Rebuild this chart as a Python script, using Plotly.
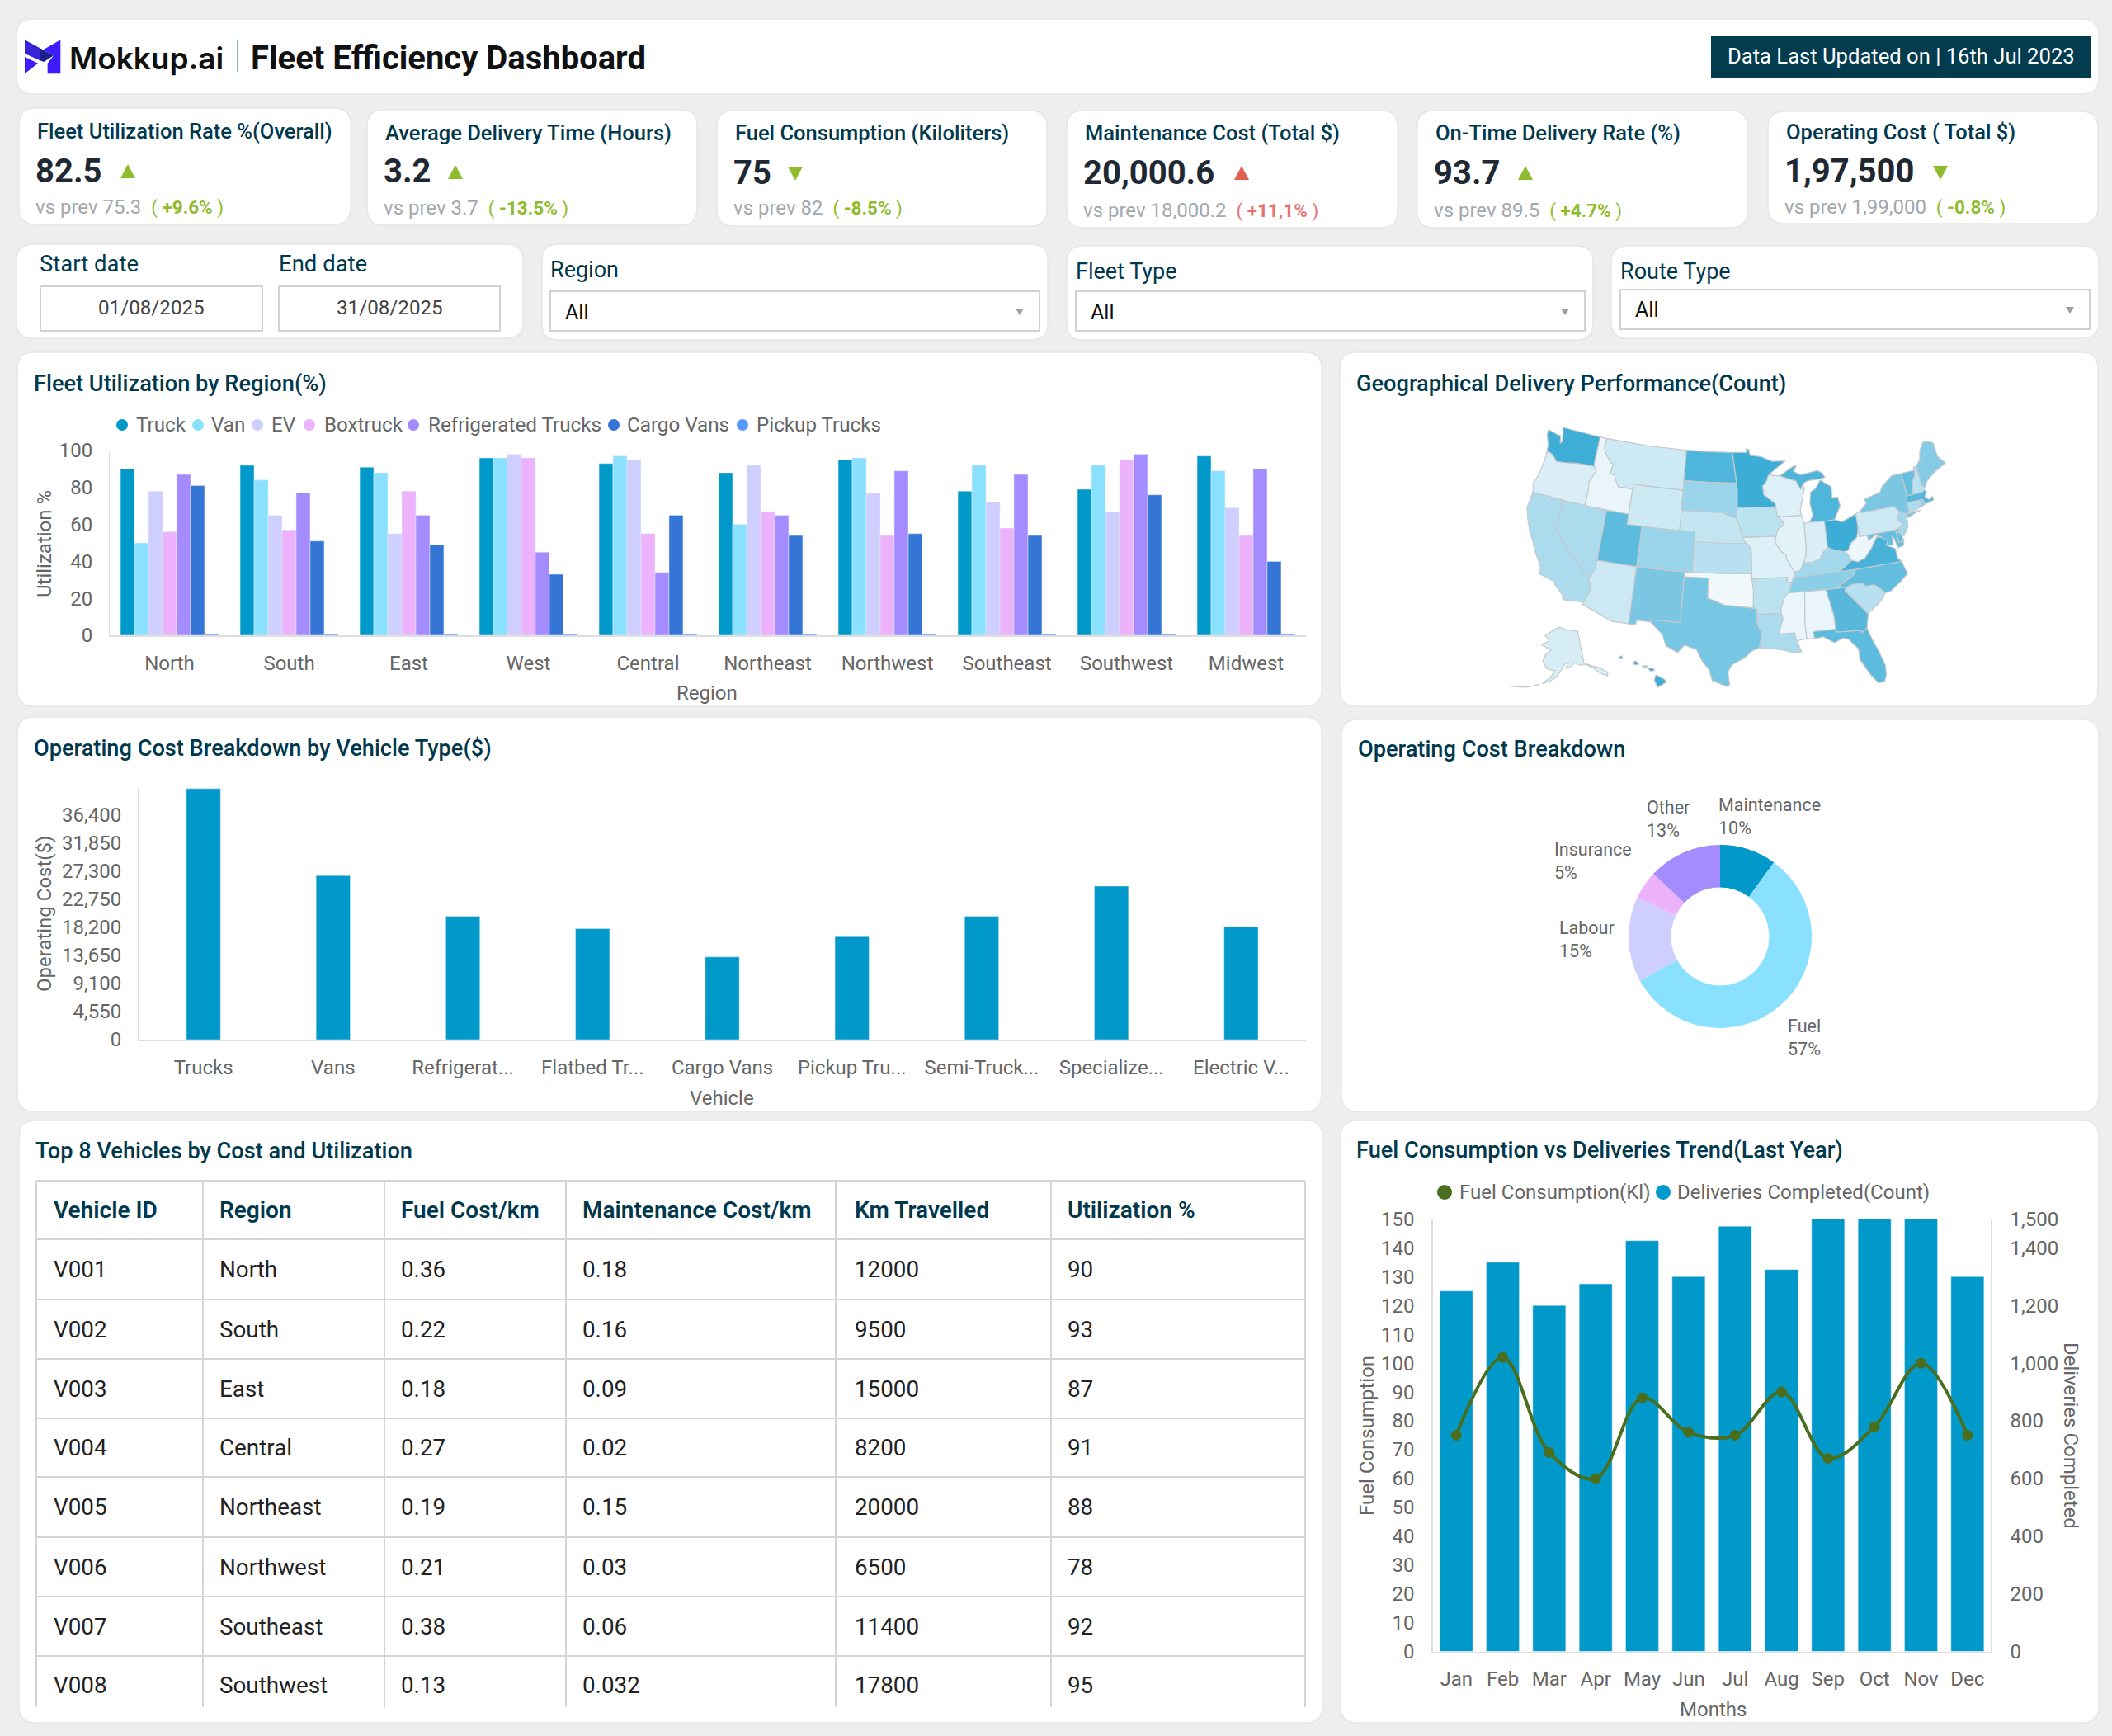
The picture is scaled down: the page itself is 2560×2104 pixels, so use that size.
import math
import plotly.graph_objects as go

W, H = 2560, 2104
DARK = '#00394d'
GREY = '#666666'
AXIS = '#dedede'

# ---- data ----
kpi_titles = ['Fleet Utilization Rate %(Overall)', 'Average Delivery Time (Hours)', 'Fuel Consumption (Kiloliters)',
              'Maintenance Cost (Total $)', 'On-Time Delivery Rate (%)', 'Operating Cost ( Total $)']
kpi_values = ['82.5', '3.2', '75', '20,000.6', '93.7', '1,97,500']
kpi_prev = ['75.3', '3.7', '82', '18,000.2', '89.5', '1,99,000']
kpi_delta = ['+9.6%', '-13.5%', '-8.5%', '+11,1%', '+4.7%', '-0.8%']
kpi_up = [True, True, False, True, True, False]
kpi_bad = [False, False, False, True, False, False]

regions = ['North', 'South', 'East', 'West', 'Central', 'Northeast', 'Northwest', 'Southeast', 'Southwest', 'Midwest']
truck = [90, 92, 91, 96, 93, 88, 95, 78, 79, 97]
van = [50, 84, 88, 96, 97, 60, 96, 92, 92, 89]
ev = [78, 65, 55, 98, 95, 92, 77, 72, 67, 69]
boxtruck = [56, 57, 78, 96, 55, 67, 54, 58, 95, 54]
refrigerated = [87, 77, 65, 45, 34, 65, 89, 87, 98, 90]
cargo_vans = [81, 51, 49, 33, 65, 54, 55, 54, 76, 40]
pickup = [0.6, 0.6, 0.6, 0.6, 0.6, 0.6, 0.6, 0.6, 0.6, 0.6]
fleet_names = ['Truck', 'Van', 'EV', 'Boxtruck', 'Refrigerated Trucks', 'Cargo Vans', 'Pickup Trucks']
fleet_series = [truck, van, ev, boxtruck, refrigerated, cargo_vans, pickup]
fleet_colors = ['#0099c9', '#8ae1ff', '#cfcfff', '#ecb3fc', '#a48cff', '#3575d5', '#5599ff']

vehicles = ['Trucks', 'Vans', 'Refrigerat...', 'Flatbed Tr...', 'Cargo Vans', 'Pickup Tru...', 'Semi-Truck...',
            'Specialize...', 'Electric V...']
vehicle_cost = [40700, 26600, 20000, 18000, 13400, 16700, 20000, 24900, 18300]
cost_ticks = [0, 4550, 9100, 13650, 18200, 22750, 27300, 31850, 36400]

pie_labels = ['Maintenance', 'Fuel', 'Labour', 'Insurance', 'Other']
pie_values = [10, 57, 15, 5, 13]
pie_colors = ['#0099c9', '#8ae1ff', '#cfcfff', '#ecb3fc', '#a48cff']

table_header = ['Vehicle ID', 'Region', 'Fuel Cost/km', 'Maintenance Cost/km', 'Km Travelled', 'Utilization %']
vehicle_id = ['V001', 'V002', 'V003', 'V004', 'V005', 'V006', 'V007', 'V008']
vehicle_region = ['North', 'South', 'East', 'Central', 'Northeast', 'Northwest', 'Southeast', 'Southwest']
fuel_cost = ['0.36', '0.22', '0.18', '0.27', '0.19', '0.21', '0.38', '0.13']
maint_cost = ['0.18', '0.16', '0.09', '0.02', '0.15', '0.03', '0.06', '0.032']
km_travelled = [12000, 9500, 15000, 8200, 20000, 6500, 11400, 17800]
utilization = [90, 93, 87, 91, 88, 78, 92, 95]

months = ['Jan', 'Feb', 'Mar', 'Apr', 'May', 'Jun', 'Jul', 'Aug', 'Sep', 'Oct', 'Nov', 'Dec']
deliveries = [1250, 1350, 1200, 1275, 1425, 1300, 1475, 1325, 1500, 1500, 1500, 1300]
fuel_kl = [75, 102, 69, 60, 88, 76, 75, 90, 67, 78, 100, 75]

# delivery counts per state, estimated from the map shading (0-100)
state_counts = {
    'WA': 90, 'OR': 13, 'ID': 5, 'MT': 19, 'WY': 19, 'ND': 82, 'SD': 45, 'NE': 24, 'KS': 30, 'OK': 1, 'TX': 62,
    'NM': 60, 'CO': 45, 'UT': 75, 'AZ': 20, 'NV': 36, 'CA': 36, 'MN': 92, 'IA': 28, 'MO': 11, 'AR': 28, 'LA': 36,
    'WI': 11, 'IL': 9, 'IN': 13, 'OH': 92, 'KY': 40, 'TN': 52, 'MS': 5, 'AL': 5, 'GA': 78, 'FL': 75, 'SC': 30,
    'NC': 72, 'VA': 85, 'WV': 3, 'MD': 70, 'DE': 70, 'PA': 19, 'NJ': 40, 'NY': 60, 'CT': 35, 'RI': 50, 'MA': 80,
    'VT': 70, 'NH': 30, 'ME': 55, 'MI': 82, 'AK': 14, 'HI': 90,
}

# rough state outlines as lon/lat, no topojson is reachable offline
state_shapes = {
    'WA': [[(-124.7, 48.38), (-123.2, 48.15), (-122.75, 48.15), (-122.5, 47.4), (-122.3, 47.6), (-122.5, 48.5), (-122.8, 49), (-117.03, 49), (-117.04, 46.4), (-116.92, 45.99), (-119, 45.93), (-119.6, 45.9), (-121.2, 45.65), (-122.3, 45.55), (-122.8, 45.9), (-123.4, 46.2), (-124, 46.3), (-124.1, 46.9), (-124.7, 47.9)]],
    'OR': [[(-124.0, 46.25), (-123.4, 46.2), (-122.8, 45.9), (-122.3, 45.55), (-121.2, 45.65), (-119.6, 45.9), (-119, 45.93), (-116.92, 45.99), (-116.5, 45.6), (-117.2, 44.4), (-117.03, 43.8), (-117.03, 42), (-124.2, 42), (-124.5, 42.8), (-124.1, 44), (-123.95, 45.5)]],
    'ID': [[(-117.03, 49), (-116.05, 49), (-116.05, 48), (-115.7, 47.5), (-114.7, 46.7), (-114.35, 46.65), (-114.5, 45.6), (-113.9, 45.6), (-113.45, 44.95), (-113, 44.45), (-112.3, 44.55), (-111.05, 44.48), (-111.05, 42), (-117.03, 42), (-117.03, 43.8), (-117.2, 44.4), (-116.5, 45.6), (-116.92, 45.99), (-117.04, 46.4)]],
    'MT': [[(-116.05, 49), (-110, 49), (-104.05, 49), (-104.05, 45), (-111.05, 45), (-111.05, 44.48), (-112.3, 44.55), (-113, 44.45), (-113.45, 44.95), (-113.9, 45.6), (-114.5, 45.6), (-114.35, 46.65), (-114.7, 46.7), (-115.7, 47.5), (-116.05, 48)]],
    'WY': [[(-111.05, 45), (-107.5, 45), (-104.05, 45), (-104.05, 41), (-107.5, 41), (-111.05, 41)]],
    'ND': [[(-104.05, 49), (-100.5, 49), (-97.23, 49), (-96.85, 47.5), (-96.56, 45.94), (-100.5, 45.94), (-104.05, 45.94)]],
    'SD': [[(-104.05, 45.94), (-100.5, 45.94), (-96.56, 45.94), (-96.45, 45.3), (-96.45, 43.5), (-96.6, 42.5), (-97.9, 42.8), (-98.5, 43), (-101, 43), (-104.05, 43)]],
    'NE': [[(-104.05, 43), (-101, 43), (-98.5, 43), (-97.9, 42.8), (-96.6, 42.5), (-96.1, 41.7), (-95.85, 40.7), (-95.31, 40), (-98.5, 40), (-102.05, 40), (-102.05, 41), (-104.05, 41)]],
    'KS': [[(-102.05, 40), (-98.5, 40), (-95.31, 40), (-94.9, 39.8), (-94.6, 39.1), (-94.62, 37), (-98.5, 37), (-102.04, 37)]],
    'OK': [[(-103, 37), (-98.5, 37), (-94.62, 37), (-94.43, 35.4), (-94.48, 33.64), (-96.5, 33.8), (-97.9, 33.9), (-99.2, 34.3), (-100, 34.56), (-100, 36.5), (-103, 36.5)]],
    'TX': [[(-106.62, 32), (-103.06, 32), (-103.04, 36.5), (-100, 36.5), (-100, 34.56), (-99.2, 34.3), (-97.9, 33.9), (-96.5, 33.8), (-94.48, 33.64), (-94.04, 33.55), (-94.04, 31.99), (-93.55, 31.2), (-93.8, 29.9), (-93.85, 29.7), (-94.7, 29.4), (-95.6, 28.7), (-97, 28), (-97.4, 27.3), (-97.2, 26), (-97.5, 25.85), (-99.1, 26.4), (-99.5, 27.5), (-100.3, 28.3), (-101, 29.4), (-102.4, 29.8), (-103.1, 29), (-104.5, 29.6), (-105, 30.65), (-106.5, 31.75)]],
    'NM': [[(-109.05, 37), (-106, 37), (-103, 37), (-103.06, 32), (-106.62, 32), (-106.53, 31.78), (-108.2, 31.78), (-108.2, 31.33), (-109.05, 31.33)]],
    'CO': [[(-109.05, 41), (-105.5, 41), (-102.05, 41), (-102.05, 37), (-105.5, 37), (-109.05, 37)]],
    'UT': [[(-114.05, 42), (-111.05, 42), (-111.05, 41), (-109.05, 41), (-109.05, 37), (-114.05, 37)]],
    'AZ': [[(-114.05, 37), (-109.05, 37), (-109.05, 31.33), (-111.07, 31.33), (-114.8, 32.5), (-114.5, 33), (-114.15, 34.3), (-114.6, 35), (-114.05, 36.2)]],
    'NV': [[(-120, 42), (-114.05, 42), (-114.05, 36.2), (-114.6, 35), (-120, 39)]],
    'CA': [[(-124.2, 42), (-120, 42), (-120, 39), (-114.6, 35), (-114.15, 34.3), (-114.5, 33), (-114.72, 32.72), (-117.12, 32.53), (-117.3, 33), (-118.4, 33.75), (-118.5, 34.03), (-120.5, 34.45), (-120.65, 35.15), (-121.9, 36.6), (-122.5, 37.5), (-123, 38), (-123.8, 39.3), (-124.35, 40.4)]],
    'MN': [[(-97.23, 49), (-95.15, 49), (-95.15, 49.38), (-94.8, 49.3), (-94.6, 48.7), (-93, 48.55), (-91.4, 48.05), (-89.5, 48), (-92, 46.7), (-92.3, 46.1), (-92.9, 45.6), (-92.75, 44.75), (-91.25, 43.85), (-91.22, 43.5), (-96.45, 43.5), (-96.45, 45.3), (-96.56, 45.94), (-96.85, 47.5)]],
    'IA': [[(-96.45, 43.5), (-91.22, 43.5), (-91.1, 42.7), (-90.15, 41.8), (-91.1, 41.2), (-91.42, 40.38), (-91.75, 40.61), (-95.77, 40.58), (-96.1, 41.7), (-96.6, 42.5)]],
    'MO': [[(-95.77, 40.58), (-91.75, 40.61), (-91.42, 40.38), (-91.5, 40), (-90.7, 39), (-90.15, 38.8), (-90.2, 38.4), (-89.5, 37.3), (-89.15, 37), (-89.4, 36.5), (-89.7, 36), (-90.37, 36), (-90.15, 36.5), (-94.62, 36.5), (-94.6, 39.1), (-94.9, 39.8), (-95.31, 40)]],
    'AR': [[(-94.62, 36.5), (-90.15, 36.5), (-90.37, 36), (-89.7, 36), (-90.1, 35), (-90.6, 34.7), (-91.2, 33.5), (-91.17, 33), (-94.04, 33), (-94.04, 33.55), (-94.48, 33.64), (-94.43, 35.4)]],
    'LA': [[(-94.04, 33), (-91.17, 33), (-91, 32.5), (-91.6, 31), (-89.75, 31), (-89.6, 30.2), (-89.4, 29.8), (-89.1, 29.1), (-90.2, 29.1), (-91.3, 29.4), (-92.3, 29.55), (-93.85, 29.7), (-93.8, 29.9), (-93.55, 31.2), (-94.04, 31.99)]],
    'WI': [[(-92, 46.7), (-90.4, 46.55), (-88.1, 45.9), (-87.8, 45.35), (-87.6, 45.1), (-87, 45.25), (-87.9, 43), (-87.8, 42.5), (-90.64, 42.5), (-91.1, 42.7), (-91.22, 43.5), (-91.25, 43.85), (-92.75, 44.75), (-92.9, 45.6), (-92.3, 46.1)]],
    'IL': [[(-90.64, 42.5), (-87.8, 42.5), (-87.53, 41.7), (-87.53, 39.35), (-87.65, 38.5), (-88.05, 37.8), (-88.5, 37.1), (-89.15, 37), (-89.5, 37.3), (-90.2, 38.4), (-90.15, 38.8), (-90.7, 39), (-91.5, 40), (-91.42, 40.38), (-91.1, 41.2), (-90.15, 41.8), (-91.1, 42.7)]],
    'IN': [[(-87.53, 41.7), (-86.8, 41.76), (-84.8, 41.76), (-84.81, 39.1), (-85.4, 38.7), (-86, 38), (-87.1, 37.8), (-88.05, 37.8), (-87.65, 38.5), (-87.53, 39.35)]],
    'OH': [[(-84.8, 41.7), (-83.45, 41.73), (-82.5, 41.4), (-81.3, 41.75), (-80.52, 41.98), (-80.52, 40.64), (-80.85, 39.7), (-81.75, 39.2), (-82.2, 38.6), (-82.6, 38.45), (-83.7, 38.65), (-84.81, 39.1)]],
    'KY': [[(-89.15, 37), (-88.5, 37.1), (-88.05, 37.8), (-87.1, 37.8), (-86, 38), (-85.4, 38.7), (-84.81, 39.1), (-83.7, 38.65), (-82.6, 38.45), (-81.97, 37.54), (-83.68, 36.6), (-88.07, 36.5), (-89.4, 36.5)]],
    'TN': [[(-90.1, 35), (-89.7, 36), (-89.4, 36.5), (-88.07, 36.5), (-83.68, 36.6), (-81.68, 36.59), (-82, 36.1), (-84.3, 35), (-88.2, 35)]],
    'MS': [[(-90.1, 35), (-88.2, 35), (-88.47, 31.9), (-88.4, 30.35), (-89.6, 30.2), (-89.75, 31), (-91.6, 31), (-91, 32.5), (-91.17, 33), (-91.2, 33.5), (-90.6, 34.7)]],
    'AL': [[(-88.2, 35), (-85.6, 35), (-85, 32.3), (-85, 31), (-87.6, 31), (-87.5, 30.3), (-88.4, 30.35), (-88.47, 31.9)]],
    'GA': [[(-85.6, 35), (-83.1, 35), (-83.35, 34.7), (-81, 32.1), (-81.4, 30.7), (-82.05, 30.36), (-82.2, 30.57), (-84.86, 30.7), (-85, 31), (-85, 32.3)]],
    'FL': [[(-87.6, 31), (-85, 31), (-84.86, 30.7), (-82.2, 30.57), (-82.05, 30.36), (-81.4, 30.7), (-81, 29.5), (-80.5, 28.3), (-80.03, 26.8), (-80.1, 25.8), (-80.4, 25.2), (-81.1, 25.15), (-81.8, 26.1), (-82.7, 27.7), (-82.7, 28.8), (-83.7, 29.9), (-84.3, 30.05), (-85.3, 29.7), (-86.5, 30.4), (-87.5, 30.3)]],
    'SC': [[(-83.1, 35), (-82.3, 35.2), (-81, 35.15), (-80.8, 34.82), (-79.67, 34.8), (-78.55, 33.85), (-79.3, 33.1), (-81, 32.1), (-83.35, 34.7)]],
    'NC': [[(-84.3, 35), (-82, 36.1), (-81.68, 36.59), (-75.87, 36.55), (-75.5, 35.25), (-76.5, 34.65), (-77.9, 33.9), (-78.55, 33.85), (-79.67, 34.8), (-80.8, 34.82), (-81, 35.15), (-82.3, 35.2), (-83.1, 35)]],
    'VA': [[(-83.68, 36.6), (-81.97, 37.54), (-81.3, 37.3), (-80.3, 37.55), (-79.3, 38.4), (-78.35, 39.4), (-77.75, 39.3), (-77.05, 38.8), (-77.3, 38.4), (-76.3, 37.9), (-76.3, 37), (-75.87, 36.55), (-81.68, 36.59)]],
    'WV': [[(-82.6, 38.45), (-81.97, 37.54), (-81.3, 37.3), (-80.3, 37.55), (-79.3, 38.4), (-78.35, 39.4), (-77.75, 39.3), (-78.4, 39.62), (-79.48, 39.2), (-79.48, 39.72), (-80.52, 39.72), (-80.52, 40.64), (-80.85, 39.7), (-81.75, 39.2), (-82.2, 38.6)]],
    'MD': [[(-79.48, 39.72), (-75.79, 39.72), (-75.7, 38.46), (-75.05, 38.45), (-75.25, 38.03), (-75.95, 37.95), (-76.2, 38.9), (-76.4, 39.2), (-76.45, 38.3), (-77.3, 38.4), (-77.05, 38.8), (-77.75, 39.3), (-78.4, 39.62), (-79.48, 39.2)]],
    'DE': [[(-75.79, 39.72), (-75.4, 39.8), (-75.1, 38.8), (-75.05, 38.45), (-75.7, 38.46)]],
    'PA': [[(-80.52, 41.98), (-79.76, 42.27), (-79.76, 42), (-75.35, 42), (-74.7, 41.36), (-75.13, 40.98), (-75.2, 40.6), (-74.72, 40.15), (-75.4, 39.8), (-75.79, 39.72), (-80.52, 39.72)]],
    'NJ': [[(-74.7, 41.36), (-73.9, 41), (-74.25, 40.5), (-74, 40.4), (-74.1, 39.75), (-74.9, 38.95), (-75.55, 39.5), (-74.72, 40.15), (-75.2, 40.6), (-75.13, 40.98)]],
    'NY': [[(-79.76, 42.27), (-78.9, 42.85), (-79.05, 43.27), (-76.8, 43.63), (-76.3, 44.2), (-74.7, 45), (-73.35, 45), (-73.3, 43.6), (-73.27, 42.75), (-73.5, 42.05), (-73.5, 41.3), (-73.65, 41), (-72, 41.05), (-73.9, 40.6), (-73.9, 41), (-74.7, 41.36), (-75.35, 42), (-79.76, 42)]],
    'CT': [[(-73.5, 42.05), (-71.8, 42.02), (-71.85, 41.32), (-73.65, 41), (-73.5, 41.3)]],
    'RI': [[(-71.8, 42.02), (-71.38, 42.02), (-71.15, 41.5), (-71.85, 41.32)]],
    'MA': [[(-73.5, 42.05), (-73.27, 42.75), (-71.3, 42.7), (-70.85, 42.87), (-70.6, 42.65), (-71, 42.25), (-70.55, 41.8), (-70, 42.05), (-69.95, 41.67), (-71.15, 41.5), (-71.38, 42.02)]],
    'VT': [[(-73.35, 45), (-71.5, 45), (-71.5, 44.6), (-72.05, 44), (-72.45, 43), (-72.45, 42.73), (-73.27, 42.75), (-73.3, 43.6)]],
    'NH': [[(-71.5, 45.3), (-71.08, 45.3), (-70.97, 43.4), (-70.7, 43.07), (-70.85, 42.87), (-71.3, 42.7), (-72.45, 42.73), (-72.45, 43), (-72.05, 44), (-71.5, 44.6)]],
    'ME': [[(-71.08, 45.3), (-70.3, 45.9), (-70, 46.7), (-69.23, 47.45), (-68.3, 47.35), (-67.8, 47.07), (-67.8, 45.7), (-67, 44.85), (-68.8, 44.3), (-70.2, 43.6), (-70.7, 43.07), (-70.97, 43.4)]],
    'MI': [[(-86.8, 41.76), (-84.8, 41.7), (-83.45, 41.73), (-83.1, 42.2), (-82.45, 43), (-82.6, 43.9), (-83.4, 43.9), (-83.3, 45), (-84.75, 45.78), (-85.5, 45), (-86.25, 44.7), (-86.5, 43.6), (-86.25, 42.4)],
           [(-90.4, 46.55), (-88.4, 47.4), (-87.9, 47.47), (-88.4, 46.9), (-87.4, 46.5), (-85, 46.75), (-84.4, 46.5), (-84, 46), (-84.75, 45.9), (-86.5, 45.85), (-87, 45.7), (-87.6, 45.1), (-87.8, 45.35), (-88.1, 45.9)]],
    'AK': [[(-141, 69.6), (-141, 60.3), (-137, 59), (-133.5, 58), (-130, 55.9), (-131, 55), (-134, 56.5), (-136.5, 58.2), (-139.7, 59.7), (-144, 60), (-146, 60.8), (-148.5, 60), (-151.5, 59.2), (-150.5, 61), (-152, 60.7), (-154, 59), (-156.5, 57), (-160, 55.5), (-163.5, 54.7), (-160, 56.5), (-157.5, 58.7), (-162, 59), (-165, 61), (-164, 63), (-161, 64.5), (-168, 65.6), (-163, 67), (-166.5, 68.4), (-156.5, 71.3), (-150, 70.5)],
           [(-164.5, 54.4), (-170, 52.9), (-178, 51.6), (-172, 52.5), (-166, 53.9)]],
    'HI': [[(-155.9, 20.25), (-155, 19.75), (-154.8, 19.5), (-155.7, 18.95), (-156.05, 19.7)],
           [(-156.7, 20.9), (-156.25, 20.95), (-156, 20.75), (-156.4, 20.6)],
           [(-157.3, 21.2), (-156.75, 21.17), (-156.85, 21.05), (-157.25, 21.1)],
           [(-158.25, 21.55), (-157.95, 21.7), (-157.65, 21.3), (-158.1, 21.3)],
           [(-159.75, 22.1), (-159.4, 22.2), (-159.35, 21.95), (-159.6, 21.9)]],
}


def fx(x):
    return x / W


def fy(y):
    return 1 - y / H


def card_path(x0, y0, x1, y1, r=20):
    a, b, c, d = fx(x0), fy(y0), fx(x1), fy(y1)
    rx, ry = r / W, r / H
    return (f'M{a+rx},{b} L{c-rx},{b} Q{c},{b} {c},{b-ry} L{c},{d+ry} Q{c},{d} {c-rx},{d} '
            f'L{a+rx},{d} Q{a},{d} {a},{d+ry} L{a},{b-ry} Q{a},{b} {a+rx},{b} Z')


def poly_path(points):
    return 'M' + ' L'.join(f'{fx(px)},{fy(py)}' for px, py in points) + ' Z'


shapes = []
annotations = []


def add_card(x0, y0, x1, y1):
    shapes.append(dict(type='path', path=card_path(x0, y0, x1, y1), xref='paper', yref='paper',
                       fillcolor='white', line=dict(color='#e6e6e6', width=1.5), layer='below'))


def add_box(x0, y0, x1, y1, fill='white', line='#d2d2d2', width=2):
    shapes.append(dict(type='rect', x0=fx(x0), x1=fx(x1), y0=fy(y0), y1=fy(y1), xref='paper', yref='paper',
                       fillcolor=fill, line=dict(color=line, width=width), layer='below'))


def add_poly(points, color):
    shapes.append(dict(type='path', path=poly_path(points), xref='paper', yref='paper',
                       fillcolor=color, line=dict(width=0), layer='below'))


def add_dot(x, y, r, color):
    shapes.append(dict(type='circle', x0=fx(x - r), x1=fx(x + r), y0=fy(y + r), y1=fy(y - r), xref='paper',
                       yref='paper', fillcolor=color, line=dict(width=0), layer='below'))


def add_line(x0, y0, x1, y1, color='#d5d5d5', width=2):
    shapes.append(dict(type='line', x0=fx(x0), x1=fx(x1), y0=fy(y0), y1=fy(y1), xref='paper', yref='paper',
                       line=dict(color=color, width=width), layer='below'))


def add_text(x, y, text, size=24, color=GREY, anchor='left', weight=400, angle=0, family='Roboto', align='left'):
    annotations.append(dict(x=fx(x), y=fy(y), xref='paper', yref='paper', text=text, showarrow=False,
                            xanchor=anchor, yanchor='middle', textangle=angle, align=align, borderpad=0, borderwidth=0,
                            font=dict(family=family, size=size, color=color, weight=weight)))


# header, logo first
add_card(20, 23, 2544, 114)
for pts, colr in [([(30, 102), (78, 125), (30, 163)], '#3d1cff'),
                  ([(160, 40), (160, 163), (113, 163), (113, 125), (135, 97), (97, 76)], '#3d1cff'),
                  ([(30, 40), (85, 70), (85, 115), (30, 90)], '#3524d8'),
                  ([(85, 70), (135, 97), (100, 120), (85, 115)], '#1b1f8a')]:
    add_poly([(20 + a / 3, 35 + b / 3) for a, b in pts], colr)
add_text(84, 70, 'Mokkup.ai', size=37, color='#111111', weight=600, family='Inter')
add_line(288, 49, 288, 87, color='#7f9aa3', width=1.5)
add_text(304, 70, 'Fleet Efficiency Dashboard', size=40, color='#111111', weight=700)
add_box(2074, 44, 2534, 94, fill='#033b4f', line='#033b4f', width=0)
add_text(2304, 68, 'Data Last Updated on | 16th Jul 2023', size=25.6, color='white', anchor='center')

# kpi cards
kpi_cards = [(23, 131, 425, 272), (445, 133, 845, 273), (869, 134, 1269, 274),
             (1293, 134, 1694, 276), (1718, 134, 2118, 276), (2143, 135, 2543, 271)]
kpi_tri_x = [155, 552, 964, 1505, 1849, 2352]
kpi_row_y = [(159, 207, 251), (161, 208, 252), (161, 209, 252), (161, 209, 255), (161, 209, 255), (160, 208, 251)]
for i, (x0, y0, x1, y1) in enumerate(kpi_cards):
    add_card(x0, y0, x1, y1)
    t_y, v_y, s_y = kpi_row_y[i]
    add_text(x0 + 22, t_y, kpi_titles[i], size=25.5, color=DARK, weight=500)
    add_text(x0 + 20, v_y, kpi_values[i], size=40, color='#1f2933', weight=700)
    colr = '#e0604f' if kpi_bad[i] else '#8fbc2e'
    tx = kpi_tri_x[i]
    if kpi_up[i]:
        add_poly([(tx - 9, v_y + 9), (tx + 9, v_y + 9), (tx, v_y - 8)], colr)
    else:
        add_poly([(tx - 9, v_y - 7), (tx + 9, v_y - 7), (tx, v_y + 10)], colr)
    delta_col = '#e57373' if kpi_bad[i] else '#8fbc2e'
    add_text(x0 + 20, s_y,
             f"<span style='color:#a3a8ad'>vs prev {kpi_prev[i]}</span>\u00a0\u00a0"
             f"<span style='color:{delta_col};font-size:22.5px'>(\u00a0<b>{kpi_delta[i]}</b>\u00a0)</span>", size=24)

# filter row
add_card(20, 296, 634, 410)
add_card(657, 296, 1270, 412)
add_card(1293, 298, 1931, 412)
add_card(1953, 298, 2544, 410)
add_text(48, 319, 'Start date', size=27.5, color=DARK)
add_text(338, 319, 'End date', size=27.5, color=DARK)
add_box(49, 347, 318, 401)
add_box(338, 347, 606, 401)
add_text(183, 373, '01/08/2025', size=24.2, color='#444444', anchor='center')
add_text(472, 373, '31/08/2025', size=24.2, color='#444444', anchor='center')
dropdowns = [('Region', 667, 1260, 327, 353, 401), ('Fleet Type', 1304, 1921, 329, 353, 401),
             ('Route Type', 1964, 2533, 329, 351, 399)]
for name, x0, x1, label_y, y0, y1 in dropdowns:
    add_text(x0, label_y, name, size=27, color=DARK)
    add_box(x0, y0, x1, y1)
    add_text(x0 + 18, (y0 + y1) / 2 + 1, 'All', size=25, color='#111111')
    ax, ay = x1 - 24, (y0 + y1) / 2 + 1
    add_poly([(ax - 5, ay - 4), (ax + 5, ay - 4), (ax, ay + 4)], '#9a9fa6')

# chart cards and titles
add_card(21, 427, 1602, 856)
add_card(1624, 427, 2543, 856)
add_card(21, 869, 1602, 1347)
add_card(1626, 872, 2544, 1347)
add_card(23, 1358, 1603, 2088)
add_card(1625, 1358, 2544, 2088)
add_text(41, 465, 'Fleet Utilization by Region(%)', size=27.2, color=DARK, weight=500)
add_text(1644, 465, 'Geographical Delivery Performance(Count)', size=27.2, color=DARK, weight=500)
add_text(41, 907, 'Operating Cost Breakdown by Vehicle Type($)', size=27.2, color=DARK, weight=500)
add_text(1646, 908, 'Operating Cost Breakdown', size=27.2, color=DARK, weight=500)
add_text(43, 1395, 'Top 8 Vehicles by Cost and Utilization', size=27.2, color=DARK, weight=500)
add_text(1644, 1394, 'Fuel Consumption vs Deliveries Trend(Last Year)', size=27.2, color=DARK, weight=500)

# legends and axis titles, the dots are drawn separately so they can be as big as the reference
legend_dot_x = [148, 240, 312, 375, 501, 744, 900]
legend_text_x = [165, 256, 329, 393, 519, 760, 917]
for n, c, dx, tx in zip(fleet_names, fleet_colors, legend_dot_x, legend_text_x):
    add_dot(dx, 515, 7, c)
    add_text(tx, 515, n, size=24.2)
add_text(857, 840, 'Region', size=24, anchor='center')
add_text(54, 659, 'Utilization %', size=24, anchor='center', angle=-90)
add_text(875, 1331, 'Vehicle', size=24, anchor='center')
add_text(54, 1108, 'Operating Cost($)', size=24, anchor='center', angle=-90)
add_dot(1751, 1445, 9, '#4a6e1e')
add_text(1769, 1445, 'Fuel Consumption(Kl)', size=24)
add_dot(2016, 1445, 9, '#0099c9')
add_text(2033, 1445, 'Deliveries Completed(Count)', size=24)
add_text(2076, 2072, 'Months', size=24, anchor='center')
add_text(1657, 1740, 'Fuel Consumption', size=24, anchor='center', angle=-90)
add_text(2510, 1740, 'Deliveries Completed', size=24, anchor='center', angle=90)

# donut labels
pie_label_pos = [(2083, 989), (2167, 1257), (1890, 1138), (1884, 1043), (1996, 992)]
for (lx, ly), name, val in zip(pie_label_pos, pie_labels, pie_values):
    add_text(lx, ly, f'{name}<br>{val}%', size=21.5)

# vehicle table, drawn by hand because go.Table cannot centre text in a row
col_edges = [44, 246, 466, 686, 1013, 1274, 1582]
col_text_x = [65, 266, 486, 706, 1036, 1294]
row_edges = [1431, 1502, 1575, 1647, 1719, 1790, 1863, 1935, 2007]
row_mid_y = [1538, 1611, 1683, 1754, 1826, 1899, 1971, 2042]
for ye in row_edges:
    add_line(44, ye, 1582, ye)
for xe in col_edges:
    add_line(xe, 1431, xe, 2069)
table_cols = [vehicle_id, vehicle_region, fuel_cost, maint_cost, km_travelled, utilization]
for tx, head, col in zip(col_text_x, table_header, table_cols):
    add_text(tx, 1466, head, size=28, color=DARK, weight=600)
    for ry, val in zip(row_mid_y, col):
        add_text(tx, ry, str(val), size=27.8, color='#222222')


# map projection, conic for the lower 48
def albers(lon, lat, p1=29.5, p2=45.5, lat0=37.5, lon0=-96):
    r = math.radians
    n = (math.sin(r(p1)) + math.sin(r(p2))) / 2
    c = math.cos(r(p1)) ** 2 + 2 * n * math.sin(r(p1))
    rho0 = math.sqrt(c - 2 * n * math.sin(r(lat0))) / n
    rho = math.sqrt(c - 2 * n * math.sin(r(lat))) / n
    th = n * r(lon - lon0)
    return rho * math.sin(th), rho0 - rho * math.cos(th)


def fit_group(names, bbox, **proj):
    pts = {n: [[albers(lo, la, **proj) for lo, la in ring] for ring in state_shapes[n]] for n in names}
    xs = [p[0] for n in names for ring in pts[n] for p in ring]
    ys = [p[1] for n in names for ring in pts[n] for p in ring]
    x0, y0, x1, y1 = bbox
    out = {}
    for n in names:
        out[n] = [[(x0 + (p[0] - min(xs)) / (max(xs) - min(xs)) * (x1 - x0),
                    y0 + (max(ys) - p[1]) / (max(ys) - min(ys)) * (y1 - y0)) for p in ring] for ring in pts[n]]
    return out


lower48 = [n for n in state_shapes if n not in ('AK', 'HI')]
map_xy = fit_group(lower48, (1851, 518, 2358, 832))
map_xy.update(fit_group(['AK'], (1830, 760, 1949, 833), p1=55, p2=65, lat0=60, lon0=-154))
map_xy.update(fit_group(['HI'], (1962, 795, 2020, 833), p1=8, p2=18, lat0=20, lon0=-157))


def shade(v):
    lo, hi = (243, 249, 252), (43, 166, 211)
    return 'rgb(' + ','.join(str(round(a + (b - a) * v / 100)) for a, b in zip(lo, hi)) + ')'


def dom_x(a, b):
    return [a / W, b / W]


def dom_y(top, bottom):
    return [1 - bottom / H, 1 - top / H]


fig = go.Figure()

for name, vals, colr in zip(fleet_names, fleet_series, fleet_colors):
    fig.add_trace(go.Bar(x=regions, y=vals, name=name, marker_color=colr, xaxis='x', yaxis='y', showlegend=False))

fig.add_trace(go.Bar(x=vehicles, y=vehicle_cost, name='Operating Cost', marker_color='#0099c9', xaxis='x2',
                     yaxis='y2', width=0.263, showlegend=False))

fig.add_trace(go.Pie(labels=pie_labels, values=pie_values, hole=0.535, sort=False, direction='clockwise',
                     rotation=0, textinfo='none', marker=dict(colors=pie_colors), showlegend=False,
                     domain=dict(x=dom_x(2085 - 111, 2085 + 111), y=dom_y(1135 - 111, 1135 + 111))))

fig.add_trace(go.Bar(x=months, y=deliveries, name='Deliveries Completed(Count)', marker_color='#0099c9',
                     xaxis='x3', yaxis='y3', width=0.71, showlegend=False))
fig.add_trace(go.Scatter(x=months, y=fuel_kl, name='Fuel Consumption(Kl)', mode='lines+markers', xaxis='x3',
                         yaxis='y4', line=dict(color='#4a6e1e', width=4, shape='spline', smoothing=1),
                         marker=dict(size=13, color='#4a6e1e'), showlegend=False))

for st, rings in map_xy.items():
    xs, ys = [], []
    for ring in rings:
        xs += [p[0] for p in ring] + [ring[0][0], None]
        ys += [p[1] for p in ring] + [ring[0][1], None]
    fig.add_trace(go.Scatter(x=xs, y=ys, mode='lines', fill='toself', fillcolor=shade(state_counts[st]),
                             line=dict(color='#c4c9cc', width=1.2), name=st, xaxis='x5', yaxis='y5',
                             showlegend=False, hovertemplate=f'{st}: {state_counts[st]}<extra></extra>'))

tick_font = dict(family='Roboto', size=24, color=GREY)
fig.update_layout(
    width=W, height=H, autosize=False, margin=dict(l=0, r=0, t=0, b=0, pad=0, autoexpand=False),
    paper_bgcolor='#eeeeee', plot_bgcolor='rgba(0,0,0,0)', font=dict(family='Roboto'),
    barmode='group', bargap=0.18, bargroupgap=0,
    shapes=shapes, annotations=annotations,
    xaxis=dict(domain=dom_x(133, 1583), range=[-0.5, 9.5], tickfont=tick_font, showline=True, linecolor=AXIS,
               linewidth=2, ticks='', ticklabelstandoff=11, anchor='y'),
    yaxis=dict(domain=dom_y(546, 770), range=[0, 100], tickvals=[0, 20, 40, 60, 80, 100], tickfont=tick_font,
               showline=True, linecolor=AXIS, linewidth=1, showgrid=False, zeroline=False, ticks='',
               ticklabelstandoff=15, anchor='x'),
    xaxis2=dict(domain=dom_x(168, 1583), range=[-0.5, 8.5], tickfont=tick_font, showline=True, linecolor=AXIS,
                linewidth=2, ticks='', ticklabelstandoff=11, anchor='y2', tickangle=0),
    yaxis2=dict(domain=dom_y(955, 1260), range=[0, 40817], tickvals=cost_ticks, tickformat=',', tickfont=tick_font,
                showline=True, linecolor=AXIS, linewidth=1, showgrid=False, zeroline=False, ticks='',
                ticklabelstandoff=15, anchor='x2'),
    xaxis3=dict(domain=dom_x(1737, 2413), range=[-0.5, 11.5], tickfont=tick_font, showline=True, linecolor=AXIS,
                linewidth=2, ticks='', ticklabelstandoff=11, anchor='y3'),
    yaxis3=dict(domain=dom_y(1477.5, 2001.5), range=[0, 1500], side='right',
                tickvals=[0, 200, 400, 600, 800, 1000, 1200, 1400, 1500], tickformat=',', tickfont=tick_font,
                showline=True, linecolor=AXIS, linewidth=1.5, showgrid=False, zeroline=False, ticks='',
                ticklabelstandoff=17, anchor='x3'),
    yaxis4=dict(range=[0, 150], overlaying='y3', side='left', dtick=10, tickfont=tick_font, showline=True,
                linecolor=AXIS, linewidth=1.5, showgrid=False, zeroline=False, ticks='', ticklabelstandoff=16,
                anchor='x3'),
    xaxis5=dict(domain=dom_x(1800, 2400), range=[1800, 2400], visible=False, anchor='y5', fixedrange=True),
    yaxis5=dict(domain=dom_y(500, 850), range=[850, 500], visible=False, anchor='x5', fixedrange=True),
)

fig.write_html("out.html", config=dict(displayModeBar=False),
               post_script="document.body.style.margin='0';document.body.style.background='#eeeeee';")
